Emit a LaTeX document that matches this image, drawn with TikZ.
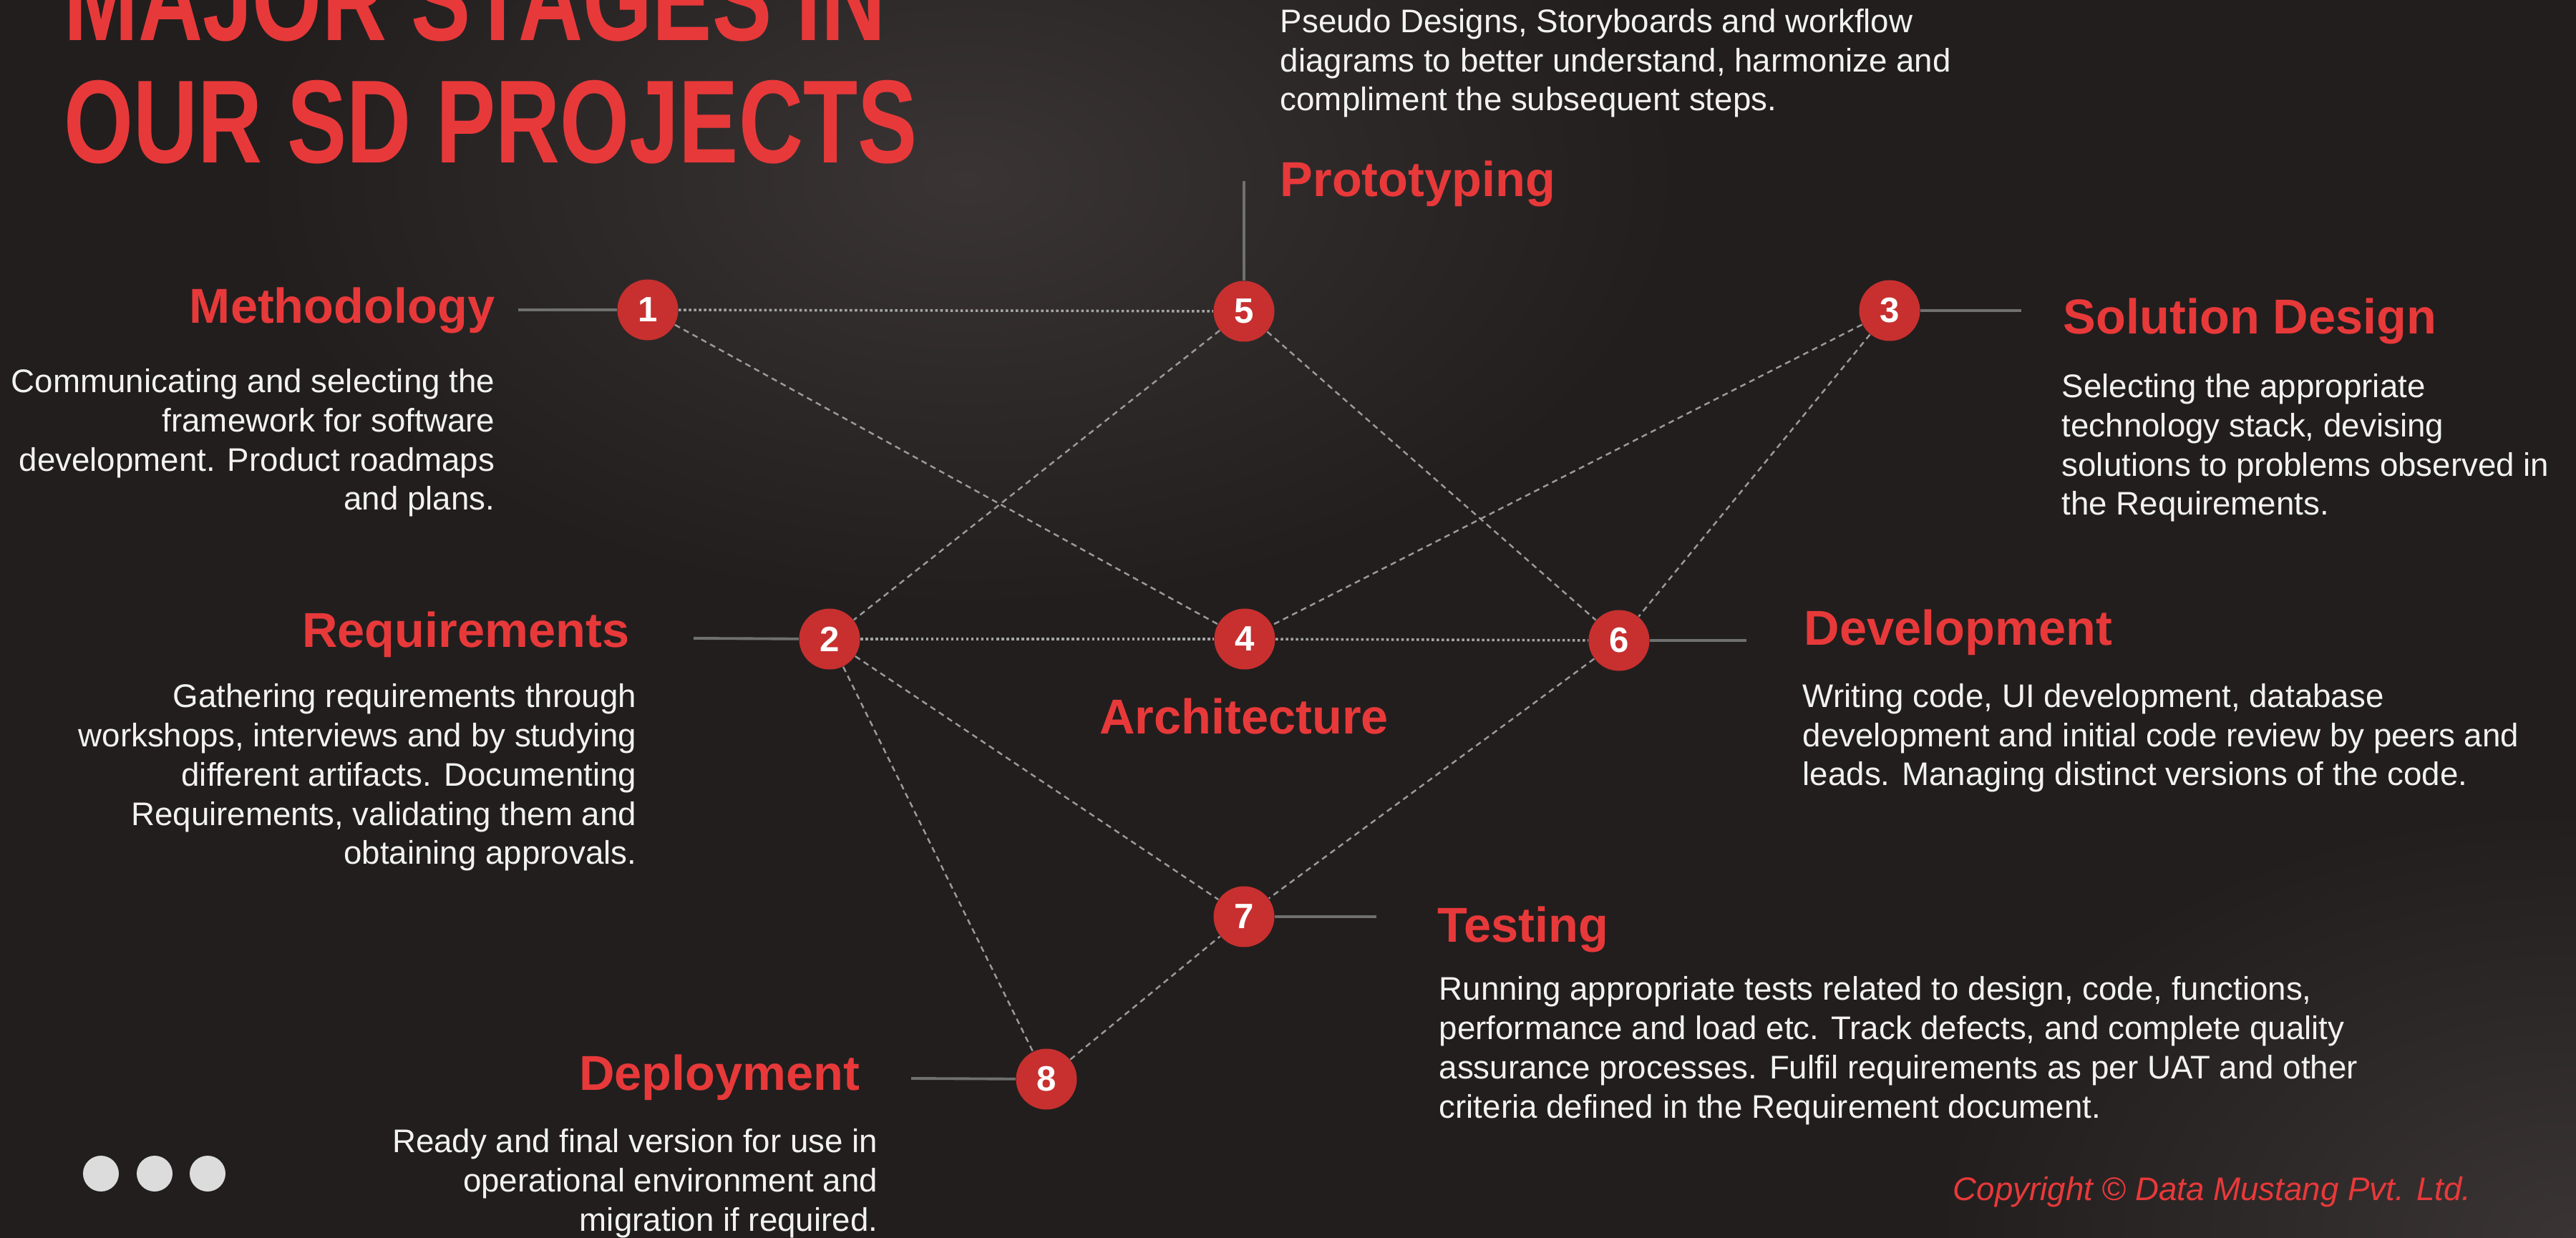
\documentclass[tikz,border=0pt]{standalone}
\usepackage{fontspec}
\setmainfont{Liberation Sans}
\usepackage{graphicx}
\definecolor{bgdark}{HTML}{221E1E}
\definecolor{bgglow}{HTML}{3A3434}
\definecolor{headred}{HTML}{E8393A}
\definecolor{stagered}{HTML}{C7302F}
\definecolor{blurbwhite}{HTML}{F2F2F2}
\definecolor{linkgrey}{HTML}{9A9A9A}
\definecolor{stubgrey}{HTML}{707070}
\definecolor{dotgrey}{HTML}{DCDCDC}
\tikzset{
	stage/.style = {circle, fill=stagered, text=white, minimum size=0.85cm, inner sep=0pt,
		font=\fontsize{14}{14}\selectfont\bfseries},
	heading/.style = {text=headred, inner sep=0pt, font=\fontsize{19.5}{20}\selectfont\bfseries},
	blurb/.style = {text=blurbwhite, inner sep=0pt, font=\fontsize{13}{15.6}\selectfont},
	link/.style = {linkgrey, line width=0.7pt, dash pattern=on 2.3pt off 1.7pt},
	hlink/.style = {linkgrey!90!white, line width=1pt, dash pattern=on 1pt off 1pt},
	stub/.style = {stubgrey, line width=1.1pt},
}
\begin{document}
\begin{tikzpicture}
		\clip (0,0) rectangle (35.99,-17.30);
		\fill[bgdark] (0,0) rectangle (35.99,-17.30);
		\shade[inner color=bgglow, outer color=bgdark] (13.5,-2.5) ellipse (10 and 6);
		\shade[inner color=bgglow, outer color=bgdark] (35.99,-17.3) ellipse (9 and 6);
		%
		\node[text=headred, inner sep=0pt, anchor=base west, font=\fontsize{47}{48.5}\selectfont\bfseries] (ttla) at (0.89,-0.57) {\scalebox{0.755}[1]{MAJOR STAGES IN}};
		\node[text=headred, inner sep=0pt, anchor=base west, font=\fontsize{47}{48.5}\selectfont\bfseries] (ttlb) at (0.89,-2.28) {\scalebox{0.755}[1]{OUR SD PROJECTS}};
		%
		\node[stage] (s1) at (9.05,-4.33) {1};
		\node[stage] (s5) at (17.38,-4.35) {5};
		\node[stage] (s3) at (26.40,-4.34) {3};
		\node[stage] (s2) at (11.59,-8.93) {2};
		\node[stage] (s4) at (17.39,-8.93) {4};
		\node[stage] (s6) at (22.62,-8.95) {6};
		\node[stage] (s7) at (17.38,-12.81) {7};
		\node[stage] (s8) at (14.62,-15.08) {8};
		%
		\coordinate (c1) at (7.24,-4.33);
		\coordinate (c5) at (17.38,-2.53);
		\coordinate (c3) at (28.24,-4.34);
		\coordinate (c2) at (9.69,-8.92);
		\coordinate (c6) at (24.40,-8.95);
		\coordinate (c7) at (19.23,-12.81);
		\coordinate (c8) at (12.73,-15.07);
		%
		\draw[hlink] (s1)--(s5);
		\draw[hlink] (s2)--(s4);
		\draw[hlink] (s4)--(s6);
		\draw[link] (s1)--(s4);
		\draw[link] (s5)--(s2);
		\draw[link] (s5)--(s6);
		\draw[link] (s3)--(s4);
		\draw[link] (s3)--(s6);
		\draw[link] (s2)--(s7);
		\draw[link] (s2)--(s8);
		\draw[link] (s6)--(s7);
		\draw[link] (s8)--(s7);
		%
		\draw[stub] (c1)--(s1);
		\draw[stub] (c5)--(s5);
		\draw[stub] (s3)--(c3);
		\draw[stub] (c2)--(s2);
		\draw[stub] (s6)--(c6);
		\draw[stub] (s7)--(c7);
		\draw[stub] (c8)--(s8);
		%
		% multi-line blurbs sit on the baseline of their last line
		\node[heading, anchor=base east] (hmeth) at (6.92,-4.52) {Methodology};
		\node[blurb, anchor=base east, align=right] (bmeth) at (6.92,-7.13) {Communicating and selecting the\\framework for software\\development. Product roadmaps\\and plans.};
		%
		\node[heading, anchor=base east] (hreq) at (8.80,-9.05) {Requirements};
		\node[blurb, anchor=base east, align=right] (breq) at (8.90,-12.08) {Gathering requirements through\\workshops, interviews and by studying\\different artifacts. Documenting\\Requirements, validating them and\\obtaining approvals.};
		%
		\node[heading, anchor=base west] (hsol) at (28.82,-4.67) {Solution Design};
		\node[blurb, anchor=base west, align=left] (bsol) at (28.80,-7.20) {Selecting the appropriate\\technology stack, devising\\solutions to problems observed in\\the Requirements.};
		%
		\node[heading, anchor=base west] (hdev) at (25.20,-9.02) {Development};
		\node[blurb, anchor=base west, align=left] (bdev) at (25.18,-10.98) {Writing code, UI development, database\\development and initial code review by peers and\\leads. Managing distinct versions of the code.};
		%
		\node[heading, anchor=base west] (htest) at (20.08,-13.17) {Testing};
		\node[blurb, anchor=base west, align=left] (btest) at (20.10,-15.62) {Running appropriate tests related to design, code, functions,\\performance and load etc. Track defects, and complete quality\\assurance processes. Fulfil requirements as per UAT and other\\criteria defined in the Requirement document.};
		%
		\node[heading, anchor=base east] (hdep) at (12.02,-15.23) {Deployment};
		\node[blurb, anchor=base east, align=right] (bdep) at (12.27,-17.20) {Ready and final version for use in\\operational environment and\\migration if required.};
		%
		\node[heading, anchor=base west] (hproto) at (17.88,-2.75) {Prototyping};
		\node[blurb, anchor=base west, align=left] (bproto) at (17.88,-1.55) {Pseudo Designs, Storyboards and workflow\\diagrams to better understand, harmonize and\\compliment the subsequent steps.};
		%
		\node[heading, anchor=base] (harch) at (17.38,-10.26) {Architecture};
		%
		\node[text=headred, inner sep=0pt, anchor=base west, font=\fontsize{13}{15}\selectfont\itshape] (copy) at (27.28,-16.77) {Copyright © Data Mustang Pvt. Ltd.};
		%
		\fill[dotgrey] (1.41,-16.40) circle (0.25);
		\fill[dotgrey] (2.16,-16.40) circle (0.25);
		\fill[dotgrey] (2.90,-16.40) circle (0.25);
	\end{tikzpicture}
\end{document}
